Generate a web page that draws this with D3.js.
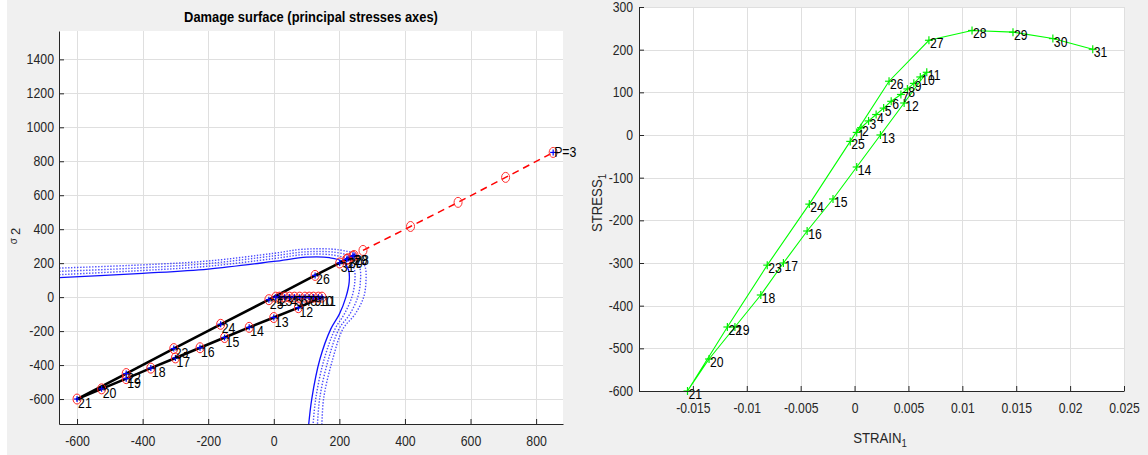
<!DOCTYPE html>
<html>
<head>
<meta charset="utf-8">
<script src="https://cdn.jsdelivr.net/npm/d3@7"></script>
<style>
body { margin: 0; background: #f0f0f0; }
</style>
</head>
<body>
<script>
const FONT = '"Liberation Sans", Arial, Helvetica, sans-serif';

// load path, point labels 1..31
const pointLabels = ["1","2","3","4","5","6","7","8","9","10","11","12","13","14","15","16",
  "17","18","19","20","21","22","23","24","25","26","27","28","29","30","31"];
// principal stress 1 (also STRESS_1 on the right chart)
const stress1 = [6, 17, 33, 48, 63, 79, 95, 108, 121, 136, 147,
  75, 0, -75, -150, -225, -300, -375, -450, -525, -600,
  -450, -305, -162, -15, 126, 222, 245, 241, 226, 201];
// principal stress 2
const stress2 = [0, 0, 0, 0, 0, 0, 0, 0, 0, 0, 0,
  -62, -120, -178, -238, -298, -358, -418, -480, -540, -600,
  -450, -303, -160, -15, 128, 222, 245, 241, 226, 201];
// STRAIN_1
const strain1 = [0.0002, 0.0006, 0.0013, 0.002, 0.0027, 0.0034, 0.0043, 0.0049, 0.0055, 0.0061, 0.0067,
  0.0046, 0.0024, 0.0002, -0.002, -0.0044, -0.0066, -0.0087, -0.0111, -0.0135, -0.0155,
  -0.0118, -0.0081, -0.0042, -0.0004, 0.0032, 0.0069, 0.0109, 0.0147, 0.0184, 0.0221];

// red dashed direction P=3
const dirS1 = [272, 417, 562, 707, 852];
const dirS2 = [275, 416, 558, 705, 852];

// damage surfaces (sigma1, sigma2), inner one solid, others dotted
const surf0 = [[-700,110],[-400,140],[-200,165],[0,210],[100,235],[170,232],[210,210],[228,160],[230,90],[220,0],[200,-100],[174,-187],[141,-363],[116,-597],[104,-800]];
const surf1 = [[-700,128],[-400,157],[-200,182],[0,227],[100,252],[180,248],[225,222],[245,168],[247,90],[238,0],[215,-100],[187,-187],[154,-363],[128,-597],[118,-800]];
const surf2 = [[-700,148],[-400,173],[-200,198],[0,243],[100,267],[190,263],[240,234],[262,175],[264,90],[256,0],[232,-100],[199,-187],[167,-363],[140,-597],[132,-800]];
const surf3 = [[-700,168],[-400,190],[-200,213],[0,258],[90,282],[200,278],[255,246],[278,182],[281,90],[274,0],[248,-100],[211,-187],[180,-363],[152,-597],[146,-800]];

const xTicksL = [-600, -400, -200, 0, 200, 400, 600, 800];
const yTicksL = [-600, -400, -200, 0, 200, 400, 600, 800, 1000, 1200, 1400];
const xTicksR = [-0.015, -0.01, -0.005, 0, 0.005, 0.01, 0.015, 0.02, 0.025];
const yTicksR = [-600, -500, -400, -300, -200, -100, 0, 100, 200, 300];

const width = 1148, height = 455;
const svg = d3.select("body").append("svg")
  .attr("width", width).attr("height", height)
  .attr("font-family", FONT);

svg.append("rect").attr("width", width).attr("height", height).attr("fill", "#f0f0f0");
svg.append("rect").attr("width", 7).attr("height", height).attr("fill", "#fff");

const boxL = {left: 59, right: 563, top: 31, bottom: 424};
const boxR = {left: 639, right: 1124, top: 7, bottom: 391};

const xL = d3.scaleLinear().domain([-655, 882]).range([boxL.left, boxL.right]);
const yL = d3.scaleLinear().domain([-747, 1567]).range([boxL.bottom, boxL.top]);
const xR = d3.scaleLinear().domain([-0.02, 0.025]).range([boxR.left, boxR.right]);
const yR = d3.scaleLinear().domain([-600, 300]).range([boxR.bottom, boxR.top]);

// text drawn a bit condensed, like the matlab screenshot
function label(g, x, y, k) {
  return g.append("text").attr("transform", `translate(${x},${y}) scale(${k},1)`);
}

function frame(box, x, y, xt, yt) {
  svg.append("rect")
    .attr("x", box.left).attr("y", box.top)
    .attr("width", box.right - box.left).attr("height", box.bottom - box.top)
    .attr("fill", "#fff");
  const g = svg.append("g").attr("stroke", "#dfdfdf").attr("stroke-width", 1);
  g.selectAll("line.gx").data(xt).join("line")
    .attr("x1", d => Math.round(x(d)) + 0.5).attr("x2", d => Math.round(x(d)) + 0.5)
    .attr("y1", box.top).attr("y2", box.bottom);
  g.selectAll("line.gy").data(yt).join("line")
    .attr("y1", d => Math.round(y(d)) + 0.5).attr("y2", d => Math.round(y(d)) + 0.5)
    .attr("x1", box.left).attr("x2", box.right);
}

function axes(box, x, y, xt, yt, xpad, ypad, fs, k) {
  const ax = svg.append("g")
    .attr("transform", `translate(0,${box.bottom})`)
    .call(d3.axisBottom(x).tickValues(xt).tickSizeInner(-5).tickSizeOuter(0)
      .tickPadding(xpad).tickFormat(d => String(d)));
  const ay = svg.append("g")
    .attr("transform", `translate(${box.left},0)`)
    .call(d3.axisLeft(y).tickValues(yt).tickSizeInner(-5).tickSizeOuter(0)
      .tickPadding(ypad).tickFormat(d => String(d)));
  [ax, ay].forEach(a => {
    a.attr("font-family", FONT).attr("font-size", fs);
    a.selectAll("path,line").attr("stroke", "#262626");
    a.selectAll("text").attr("fill", "#262626").attr("transform", `scale(${k},1)`);
  });
  ay.selectAll("text").attr("x", -ypad / k);
}

// ---------- left chart ----------
frame(boxL, xL, yL, xTicksL, yTicksL);

svg.append("clipPath").attr("id", "clipL").append("rect")
  .attr("x", boxL.left).attr("y", boxL.top)
  .attr("width", boxL.right - boxL.left).attr("height", boxL.bottom - boxL.top);

const surfLine = d3.line().x(d => xL(d[0])).y(d => yL(d[1])).curve(d3.curveCatmullRom);
const gs = svg.append("g").attr("clip-path", "url(#clipL)").attr("fill", "none").attr("stroke", "#1010ff");
gs.append("path").attr("d", surfLine(surf0)).attr("stroke-width", 1.3);
[surf1, surf2, surf3].forEach(s => {
  gs.append("path").attr("d", surfLine(s)).attr("stroke-width", 1.4)
    .attr("stroke-dasharray", "1.4,1.6").attr("opacity", 0.75);
});

// red dashed direction
const dir = dirS1.map((d, i) => [d, dirS2[i]]);
svg.append("path")
  .attr("d", d3.line().x(d => xL(d[0])).y(d => yL(d[1]))(dir))
  .attr("fill", "none").attr("stroke", "#ff0000").attr("stroke-width", 1.5)
  .attr("stroke-dasharray", "7,5");
svg.append("g").selectAll("ellipse").data(dir).join("ellipse")
  .attr("cx", d => xL(d[0])).attr("cy", d => yL(d[1]))
  .attr("rx", 4).attr("ry", 5)
  .attr("fill", "none").attr("stroke", "#ff3030").attr("stroke-width", 1);

// loading path
const path = stress1.map((d, i) => [d, stress2[i]]);
svg.append("path")
  .attr("d", d3.line().x(d => xL(d[0])).y(d => yL(d[1]))(path))
  .attr("fill", "none").attr("stroke", "#000").attr("stroke-width", 2.6)
  .attr("stroke-linejoin", "round");

svg.append("g").selectAll("ellipse").data(path).join("ellipse")
  .attr("cx", d => xL(d[0])).attr("cy", d => yL(d[1]))
  .attr("rx", 4).attr("ry", 5)
  .attr("fill", "none").attr("stroke", "#ff2020").attr("stroke-width", 1);

const plusL = svg.append("g").attr("stroke", "#0000ff").attr("stroke-width", 1.2);
path.concat([dir[dir.length - 1]]).forEach(d => {
  const cx = xL(d[0]), cy = yL(d[1]);
  plusL.append("line").attr("x1", cx - 3).attr("x2", cx + 3).attr("y1", cy).attr("y2", cy);
  plusL.append("line").attr("x1", cx).attr("x2", cx).attr("y1", cy - 3).attr("y2", cy + 3);
});

const labL = svg.append("g").attr("font-size", 14).attr("fill", "#000");
path.forEach((d, i) => {
  label(labL, xL(d[0]) + 1, yL(d[1]) + 9, 0.88).text(pointLabels[i]);
});
label(labL, xL(dir[dir.length - 1][0]) + 1, yL(dir[dir.length - 1][1]) + 5, 0.88).text("P=3");

axes(boxL, xL, yL, xTicksL, yTicksL, 12, 5, 14, 0.88);

label(svg, (boxL.left + boxL.right) / 2, 22, 0.89)
  .attr("text-anchor", "middle").attr("font-size", 14.5).attr("font-weight", "bold")
  .attr("fill", "#000")
  .text("Damage surface (principal stresses axes)");

const sl = svg.append("text")
  .attr("transform", "translate(17,236) rotate(-90)")
  .attr("text-anchor", "middle").attr("fill", "#262626");
sl.append("tspan").attr("font-size", 10).text("σ");
sl.append("tspan").attr("font-size", 13).attr("dx", 3).attr("dy", 3).text("2");

// ---------- right chart ----------
frame(boxR, xR, yR, [-0.02].concat(xTicksR), yTicksR);

const pathR = strain1.map((d, i) => [d, stress1[i]]);
svg.append("path")
  .attr("d", d3.line().x(d => xR(d[0])).y(d => yR(d[1]))(pathR))
  .attr("fill", "none").attr("stroke", "#00ff00").attr("stroke-width", 1.1);

const plusR = svg.append("g").attr("stroke", "#00ee00").attr("stroke-width", 1.2);
pathR.forEach(d => {
  const cx = xR(d[0]), cy = yR(d[1]);
  plusR.append("line").attr("x1", cx - 4).attr("x2", cx + 4).attr("y1", cy).attr("y2", cy);
  plusR.append("line").attr("x1", cx).attr("x2", cx).attr("y1", cy - 4).attr("y2", cy + 4);
});

const labR = svg.append("g").attr("font-size", 14.5).attr("fill", "#000");
pathR.forEach((d, i) => {
  label(labR, xR(d[0]) + 1, yR(d[1]) + 8, 0.84).text(pointLabels[i]);
});

axes(boxR, xR, yR, xTicksR, yTicksR, 12, 6, 14.5, 0.84);

const xl = label(svg, 880, 443, 0.88)
  .attr("text-anchor", "middle").attr("font-size", 15).attr("fill", "#262626");
xl.append("tspan").text("STRAIN");
xl.append("tspan").attr("font-size", 11).attr("dy", 4).text("1");

const yl = svg.append("text")
  .attr("transform", "translate(602,203) rotate(-90) scale(0.88,1)").attr("text-anchor", "middle")
  .attr("font-size", 15).attr("fill", "#262626");
yl.append("tspan").text("STRESS");
yl.append("tspan").attr("font-size", 11).attr("dy", 4).text("1");
</script>
</body>
</html>
